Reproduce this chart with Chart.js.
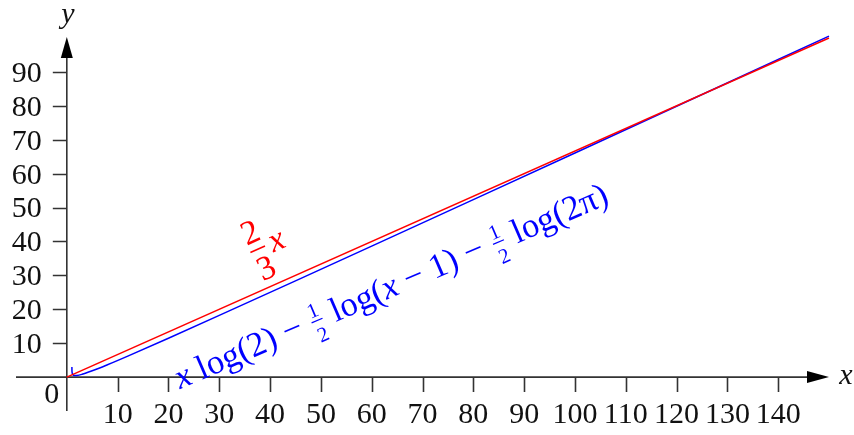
<!DOCTYPE html>
<html>
<head>
<meta charset="UTF-8">
<title>2/3 x</title>
<script src="https://cdn.jsdelivr.net/npm/chart.js@4/dist/chart.umd.min.js"></script>
<style>
  body { margin: 0; background: #fff; }
  .wrap { width: 854px; height: 435px; position: relative; }
</style>
</head>
<body>
<div class="wrap"><canvas id="c"></canvas></div>
<script>
// values
const xTicks = [10, 20, 30, 40, 50, 60, 70, 80, 90, 100, 110, 120, 130, 140];
const yTicks = [10, 20, 30, 40, 50, 60, 70, 80, 90];

const redX = [0, 150];
const redY = [0, 100];

const blueX = [1.002, 1.01, 1.03, 1.1, 1.3, 1.6, 2, 3, 5, 8, 12, 20, 30, 45, 60, 80, 100, 120, 150];
const blueY = [3.0, 2.08, 1.55, 1.0, 0.58, 0.45, 0.47, 0.81, 1.85, 3.65, 6.2, 11.47, 18.19, 28.38, 38.63, 52.35, 66.1, 79.87, 100.55];

const FONT = '"Liberation Serif", "DejaVu Serif", serif';
const AXIS = '#333';

function pts(xs, ys) { return xs.map((x, i) => ({ x: x, y: ys[i] })); }

// rich text helpers (plain runs, italic runs, small stacked fractions)
function richWidth(ctx, parts, size) {
  let w = 0;
  parts.forEach(p => {
    if (p.frac) {
      ctx.font = Math.round(size * 0.62) + 'px ' + FONT;
      w += Math.max(ctx.measureText(p.frac[0]).width, ctx.measureText(p.frac[1]).width) + size * 0.16;
    } else {
      ctx.font = (p.it ? 'italic ' : '') + size + 'px ' + FONT;
      w += ctx.measureText(p.t).width;
    }
  });
  return w;
}
function drawRich(ctx, parts, size) {
  let x = 0;
  parts.forEach(p => {
    if (p.frac) {
      const fs = Math.round(size * 0.62);
      ctx.font = fs + 'px ' + FONT;
      const fw = Math.max(ctx.measureText(p.frac[0]).width, ctx.measureText(p.frac[1]).width) + size * 0.16;
      const cx = x + fw / 2;
      ctx.textAlign = 'center';
      ctx.fillText(p.frac[0], cx, -size * 0.37);
      ctx.fillText(p.frac[1], cx, size * 0.38);
      ctx.fillRect(cx - fw / 2 + size * 0.06, -size * 0.27, fw - size * 0.12, Math.max(1, size * 0.035));
      ctx.textAlign = 'left';
      x += fw;
    } else {
      ctx.font = (p.it ? 'italic ' : '') + size + 'px ' + FONT;
      ctx.fillText(p.t, x, 0);
      x += ctx.measureText(p.t).width;
    }
  });
}

const axesPlugin = {
  id: 'axesPlugin',
  beforeDatasetsDraw(chart) {
    const ctx = chart.ctx;
    const xs = chart.scales.x, ys = chart.scales.y;
    const x0 = xs.getPixelForValue(0), y0 = ys.getPixelForValue(0);
    const xl = xs.getPixelForValue(xs.min), xr = xs.getPixelForValue(xs.max);
    const yb = ys.getPixelForValue(ys.min), yt = ys.getPixelForValue(ys.max);
    ctx.save();
    ctx.strokeStyle = AXIS;
    ctx.fillStyle = '#000';
    ctx.lineWidth = 1.6;
    // axis lines
    ctx.beginPath();
    ctx.moveTo(xl, y0); ctx.lineTo(xr - 18, y0);
    ctx.moveTo(x0, yb); ctx.lineTo(x0, yt + 18);
    ctx.stroke();
    // arrows
    ctx.beginPath();
    ctx.moveTo(xr, y0); ctx.lineTo(xr - 22, y0 - 6); ctx.lineTo(xr - 22, y0 + 6); ctx.closePath();
    ctx.fill();
    ctx.beginPath();
    ctx.moveTo(x0, yt - 1); ctx.lineTo(x0 - 6, yt + 20); ctx.lineTo(x0 + 6, yt + 20); ctx.closePath();
    ctx.fill();
    // ticks
    ctx.beginPath();
    xTicks.forEach(v => { const p = Math.round(xs.getPixelForValue(v)) + 0.5; ctx.moveTo(p, y0); ctx.lineTo(p, y0 + 15); });
    yTicks.forEach(v => { const p = Math.round(ys.getPixelForValue(v)) + 0.5; ctx.moveTo(x0, p); ctx.lineTo(x0 - 14, p); });
    ctx.stroke();
    // tick labels
    ctx.fillStyle = '#111';
    ctx.font = '30px ' + FONT;
    ctx.textAlign = 'center';
    ctx.textBaseline = 'middle';
    xTicks.forEach(v => ctx.fillText(String(v), xs.getPixelForValue(v), y0 + 38));
    ctx.textAlign = 'right';
    yTicks.forEach(v => ctx.fillText(String(v), x0 - 25, ys.getPixelForValue(v) + 2));
    ctx.textAlign = 'center';
    ctx.fillText('0', x0 - 15, y0 + 18);
    // axis names
    ctx.font = 'italic 30px ' + FONT;
    ctx.fillText('x', xr + 17, y0 - 1);
    ctx.fillText('y', x0 + 1, yt - 23);
    ctx.restore();
  },
  afterDatasetsDraw(chart) {
    const ctx = chart.ctx;
    const xs = chart.scales.x, ys = chart.scales.y;
    // red label 2/3 x, turned along the red line
    const ang = Math.atan2(ys.getPixelForValue(redY[0]) - ys.getPixelForValue(redY[1]),
                           xs.getPixelForValue(redX[1]) - xs.getPixelForValue(redX[0]));
    ctx.save();
    ctx.fillStyle = '#ff0000';
    ctx.translate(xs.getPixelForValue(37.6), ys.getPixelForValue(37.6));
    ctx.rotate(-ang);
    ctx.font = '34px ' + FONT;
    ctx.textAlign = 'center';
    ctx.textBaseline = 'alphabetic';
    ctx.fillText('2', 0, -8);
    ctx.fillText('3', 0, 31);
    ctx.fillRect(-8, -1.2, 16, 1.6);
    ctx.font = 'italic 34px ' + FONT;
    ctx.textAlign = 'left';
    ctx.fillText('x', 13, 9);
    ctx.restore();

    // blue label along the blue curve
    const parts = [
      { t: 'x', it: true }, { t: ' log(2) \u2212 ' }, { frac: ['1', '2'] }, { t: ' log(' },
      { t: 'x', it: true }, { t: ' \u2212 1) \u2212 ' }, { frac: ['1', '2'] }, { t: ' log(2\u03c0)' }
    ];
    ctx.save();
    ctx.fillStyle = '#0000ff';
    ctx.textBaseline = 'alphabetic';
    const w30 = richWidth(ctx, parts, 30);
    const size = 30 * 470 / w30;
    ctx.translate(xs.getPixelForValue(22.3), ys.getPixelForValue(-3.6));
    ctx.rotate(-23.4 * Math.PI / 180);
    drawRich(ctx, parts, size);
    ctx.restore();
  }
};

new Chart(document.getElementById('c'), {
  type: 'scatter',
  data: {
    datasets: [
      {
        label: '2/3 x',
        data: pts(redX, redY),
        showLine: true,
        borderColor: '#ff0000',
        borderWidth: 1.5,
        pointRadius: 0,
        clip: false
      },
      {
        label: 'x log(2) - 1/2 log(x-1) - 1/2 log(2pi)',
        data: pts(blueX, blueY),
        showLine: true,
        borderColor: '#0000ff',
        borderWidth: 1.5,
        pointRadius: 0,
        cubicInterpolationMode: 'monotone',
        clip: false
      }
    ]
  },
  options: {
    responsive: true,
    maintainAspectRatio: false,
    animation: false,
    layout: { padding: { left: 16, right: 25, top: 38, bottom: 24 } },
    plugins: { legend: { display: false }, tooltip: { enabled: false } },
    scales: {
      x: { type: 'linear', min: -10, max: 150, display: false },
      y: { type: 'linear', min: -10, max: 100, display: false }
    }
  },
  plugins: [axesPlugin]
});
</script>
</body>
</html>
